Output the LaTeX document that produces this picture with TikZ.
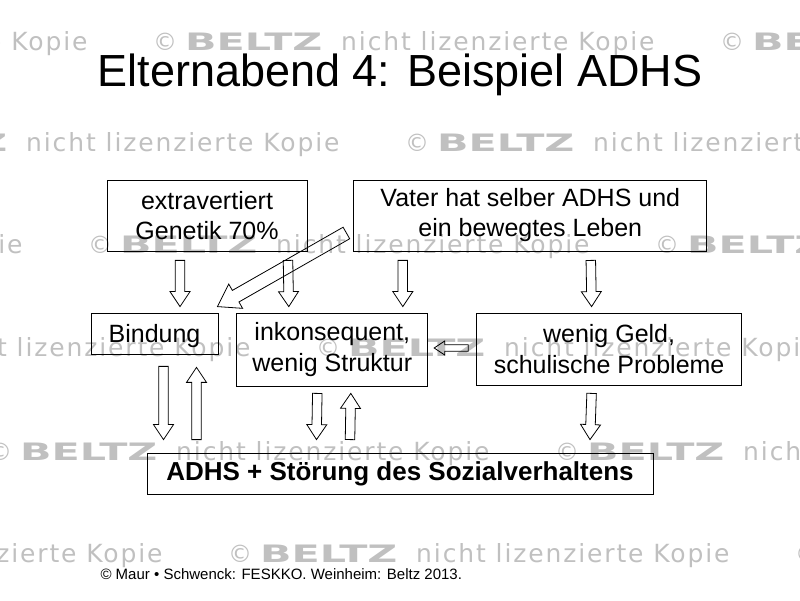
\documentclass[tikz,border=0pt]{standalone}
\usepackage{fontspec}
\setmainfont{Liberation Sans}
\newfontfamily\wmfont[LetterSpace=7.5]{DejaVu Sans}
\newfontfamily\wmbold{DejaVu Sans}
\usetikzlibrary{positioning,calc}
\definecolor{wmgray}{RGB}{192,192,192}

\newcommand{\blockarrow}[3][1]{%
\draw[hollow] let \p1=(#2), \p2=(#3), \n1={atan2(\y2-\y1,\x2-\x1)}, \n2={veclen(\x2-\x1,\y2-\y1)} in
{[shift={(\p1)},rotate=\n1] (0,-4.75*#1) -- (\n2-15*#1,-4.75*#1) -- (\n2-15*#1,-10*#1) -- (\n2,0)
-- (\n2-15*#1,10*#1) -- (\n2-15*#1,4.75*#1) -- (0,4.75*#1) -- cycle};}

\begin{document}
\begin{tikzpicture}[x=1pt,y=1pt,
box/.style={draw,line width=0.8pt,align=center,inner sep=0pt,font=\fontsize{25}{30}\selectfont},
hollow/.style={draw,line width=0.8pt,line join=miter},
wm/.style={text=wmgray,inner sep=0pt,anchor=base west}]

\useasboundingbox (0,0) rectangle (800,600);

% watermark rows
\foreach \r/\c in {51/153,152/405,254/88,357/316,460/555,562/228}
\foreach \k in {-1,0,1}{
\node[wm,font=\wmfont\fontsize{24}{24}\selectfont] (wc\r\k) at ({\c+\k*567},{600-\r}) {©};
\node[wm,font=\wmbold\bfseries\fontsize{24}{24}\selectfont] (wb\r\k) at ({\c+32+\k*567},{600-\r}) {\scalebox{1.72}[1]{BELTZ}};
\node[wm,font=\wmfont\fontsize{25}{25}\selectfont] (wt\r\k) at ({\c+188+\k*567},{600-\r}) {nicht lizenzierte Kopie};
}

\node (title) at (400,513) [anchor=base,font=\fontsize{45}{45}\selectfont] {Elternabend 4: Beispiel ADHS};

\node[box,minimum width=200pt,minimum height=71pt]	(gen)	at (207,384.5)	{extravertiert\\Genetik 70\%};
\node[box,minimum width=353pt,minimum height=71pt]	(vater)	[right=46pt of gen]	{Vater hat selber ADHS und\\ein bewegtes Leben};
\node[box,minimum width=127pt,minimum height=41pt,text height=20pt,text depth=2pt]	(bind)	at (154.5,266.5)	{Bindung};
\node[box,minimum width=191pt,minimum height=73pt,font=\fontsize{25}{31}\selectfont]	(inkon)	[right=18pt of bind.north east,anchor=north west]	{inkonsequent,\\wenig Struktur};
\node[box,minimum width=265pt,minimum height=72pt,font=\fontsize{25}{31}\selectfont]	(geld)	[right=48pt of inkon.north east,anchor=north west]	{wenig Geld,\\schulische Probleme};
\node[box,minimum width=506pt,minimum height=41pt,font=\fontsize{26}{30}\selectfont\bfseries]	(adhs)	at (400,126.5)	{ADHS + Störung des Sozialverhaltens};

\node (src) at (97,21) [anchor=base west,font=\fontsize{15}{15}\selectfont] {© Maur • Schwenck: FESKKO. Weinheim: Beltz 2013.};

\blockarrow{$(gen.south)+(-27,-9)$}{$(bind.north)+(25.5,6)$}
\blockarrow{$(gen.south)+(81,-9)$}{$(inkon.north)+(-43.5,6)$}
\blockarrow{$(vater.south)+(-127.5,-9)$}{$(inkon.north)+(70.5,6)$}
\blockarrow{$(vater.south)+(60.5,-9)$}{$(geld.north)+(-17.5,6)$}
\blockarrow[1.4]{$(vater.west)+(-7,-17.5)$}{$(bind.north east)+(-1,6)$}

\blockarrow{$(bind.south)+(9,-12)$}{$(adhs.north)+(-236.5,13)$}
\blockarrow{$(adhs.north)+(-203.5,13)$}{$(bind.south)+(42,-13)$}
\blockarrow{$(inkon.south)+(-15,-7)$}{$(adhs.north)+(-83.5,13)$}
\blockarrow{$(adhs.north)+(-50,13)$}{$(inkon.south)+(18.5,-7)$}
\blockarrow{$(geld.south)+(-17.5,-8)$}{$(adhs.north)+(190,13)$}
\blockarrow[0.7]{$(geld.west)+(-8,1)$}{$(inkon.east)+(6,1.5)$}

\end{tikzpicture}
\end{document}
